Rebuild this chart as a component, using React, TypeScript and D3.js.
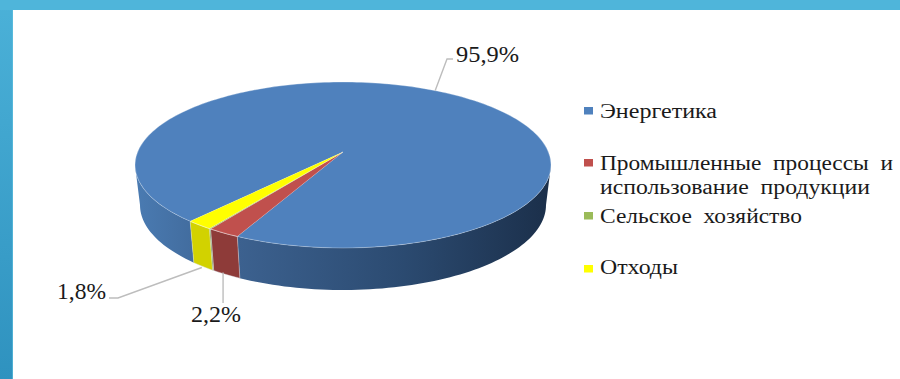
import React from "react";
import * as d3 from "d3";

const categories = ["Энергетика", "Промышленные процессы и использование продукции", "Сельское хозяйство", "Отходы"];
const shares = [95.9, 2.2, 0.1, 1.8];
const valueLabels = ["95,9%", "2,2%", "", "1,8%"];
const topColors = ["#4f81bd", "#c0504d", "#9bbb59", "#ffff00"];
const sideColors = ["url(#blueSide)", "#8e3b39", "#748c42", "#d2d200"];
const legendColors = ["#4f81bd", "#c0504d", "#9bbb59", "#ffff00"];
const legendLines = [
  [{ text: "Энергетика", width: 117, baseline: 118 }],
  [
    { text: "Промышленные  процессы  и", width: 293, baseline: 170 },
    { text: "использование  продукции", width: 270, baseline: 194 },
  ],
  [{ text: "Сельское  хозяйство", width: 202, baseline: 223 }],
  [{ text: "Отходы", width: 78, baseline: 274 }],
];
const legendMarkerTops = [107, 159, 212, 265];

const W = 900;
const H = 379;
const FIRST_SLICE_DEG = 221;
const rad = Math.PI / 180;

// Perspective disc: the tilted circle projects to an ellipse whose visual centre sits
// below the true pie centre.
const TOP = { cx: 343, cy: 165, rx: 208, ry: 83 };
const BOTTOM = { cx: 343, cy: 205, rx: 203, ry: 85 };
const APEX_SHIFT = 13 / 83;
const persp = -APEX_SHIFT;
const kx = Math.sqrt(1 - APEX_SHIFT * APEX_SHIFT);
// Angles where the projected rim reaches its left and right extremes.
const TANGENT = Math.acos(-APEX_SHIFT) / rad;

function project(disc: typeof TOP, u: number, v: number): [number, number] {
  const d = 1 + persp * v;
  return [disc.cx + (disc.rx * kx * u) / d, disc.cy + (disc.ry * (v - APEX_SHIFT)) / d];
}
const rim = (disc: typeof TOP, deg: number) => project(disc, Math.sin(deg * rad), -Math.cos(deg * rad));

const pieLayout = d3
  .pie<number>()
  .sort(null)
  .startAngle(FIRST_SLICE_DEG * rad)
  .endAngle((FIRST_SLICE_DEG + 360) * rad);
const slices = pieLayout(shares).map((s) => ({ start: s.startAngle / rad, end: s.endAngle / rad, index: s.index }));
const poly = d3.line<[number, number]>().curve(d3.curveLinear);

function samples(a: number, b: number): number[] {
  const n = Math.max(2, Math.ceil((b - a) / 1.5));
  return d3.range(n + 1).map((i) => a + ((b - a) * i) / n);
}

function topPath(start: number, end: number) {
  return poly([project(TOP, 0, 0), ...samples(start, end).map((d) => rim(TOP, d))])! + "Z";
}

function sidePaths(start: number, end: number): string[] {
  const out: string[] = [];
  for (const [lo, hi] of [[TANGENT, 360 - TANGENT], [360 + TANGENT, 720 - TANGENT]]) {
    const a = Math.max(start, lo);
    const b = Math.min(end, hi);
    if (b > a) {
      const s = samples(a, b);
      out.push(poly([...s.map((d) => rim(TOP, d)), ...s.slice().reverse().map((d) => rim(BOTTOM, d))])! + "Z");
    }
  }
  return out;
}

const midAngle = (i: number) => (slices[i].start + slices[i].end) / 2;

// Leader lines run from the slice edge through an elbow to the value label.
const blueAnchor = rim(TOP, midAngle(0) - 3);
const redAnchor = rim(BOTTOM, midAngle(1) + 1);
const yellowAnchor = rim(BOTTOM, midAngle(3));
const leaders: [number, number][][] = [
  [blueAnchor, [447, 59], [453, 59]],
  [[redAnchor[0], redAnchor[1] - 1], [redAnchor[0], 303]],
  [[yellowAnchor[0] - 1, yellowAnchor[1] + 1], [118, 298], [109, 298]],
];
const valuePlacement = [
  { i: 0, x: 456, y: 62, w: 63 },
  { i: 1, x: 191, y: 322, w: 50 },
  { i: 3, x: 57, y: 299, w: 49 },
];

const serif = "'Liberation Serif', serif";

export default function App() {
  return (
    <svg
      width={W}
      height={H}
      viewBox={`0 0 ${W} ${H}`}
      style={{ position: "fixed", left: 0, top: 0, display: "block", background: "#fff" }}
    >
      <defs>
        <linearGradient id="blueSide" gradientUnits="userSpaceOnUse" x1={135} x2={551} y1={0} y2={0}>
          <stop offset="0" stopColor="#4a7bb2" />
          <stop offset="0.25" stopColor="#3c618f" />
          <stop offset="0.65" stopColor="#2b4a70" />
          <stop offset="1" stopColor="#1b2f4a" />
        </linearGradient>
        <linearGradient id="leftBand" x1="0" x2="0" y1="0" y2="1">
          <stop offset="0" stopColor="#4bb1d8" />
          <stop offset="1" stopColor="#2f92bf" />
        </linearGradient>
      </defs>

      <rect x={0} y={0} width={13} height={H} fill="url(#leftBand)" />
      <rect x={12} y={10} width={1} height={H - 10} fill="#63c1e0" opacity={0.6} />
      <rect x={0} y={0} width={W} height={10} fill="#4fb5da" />

      {/* Outer wall of the disc */}
      {slices.map((s) =>
        sidePaths(s.start, s.end).map((d, k) => (
          <path key={`${s.index}-${k}`} d={d} fill={sideColors[s.index]} stroke={s.index === 0 ? "none" : "#dbe3ea"} strokeOpacity={0.6} strokeWidth={0.7} />
        ))
      )}

      {/* Top face */}
      {slices.map((s) => (
        <path key={s.index} d={topPath(s.start, s.end)} fill={topColors[s.index]} stroke={s.index === 0 ? "none" : "#fff"} strokeOpacity={0.35} strokeWidth={0.5} />
      ))}
      <ellipse cx={TOP.cx} cy={TOP.cy} rx={TOP.rx} ry={TOP.ry} fill="none" stroke="#fff" strokeOpacity={0.4} strokeWidth={0.7} />

      {leaders.map((pts, i) => (
        <path key={i} d={poly(pts)!} fill="none" stroke="#bdbdbd" strokeWidth={1.4} />
      ))}

      {valuePlacement.map((p) => (
        <text key={p.i} x={p.x} y={p.y} fontFamily={serif} fontSize={23} fill="#1a1a1a" textLength={p.w} lengthAdjust="spacingAndGlyphs">
          {valueLabels[p.i]}
        </text>
      ))}

      {categories.map((c, i) => (
        <g key={c}>
          <rect x={584} y={legendMarkerTops[i]} width={9} height={7.5} fill={legendColors[i]} />
          {legendLines[i].map((l) => (
            <text key={l.text} x={600} y={l.baseline} fontFamily={serif} fontSize={20} fill="#1a1a1a" textLength={l.width} lengthAdjust="spacingAndGlyphs" style={{ whiteSpace: "pre" }}>
              {l.text}
            </text>
          ))}
        </g>
      ))}
    </svg>
  );
}
